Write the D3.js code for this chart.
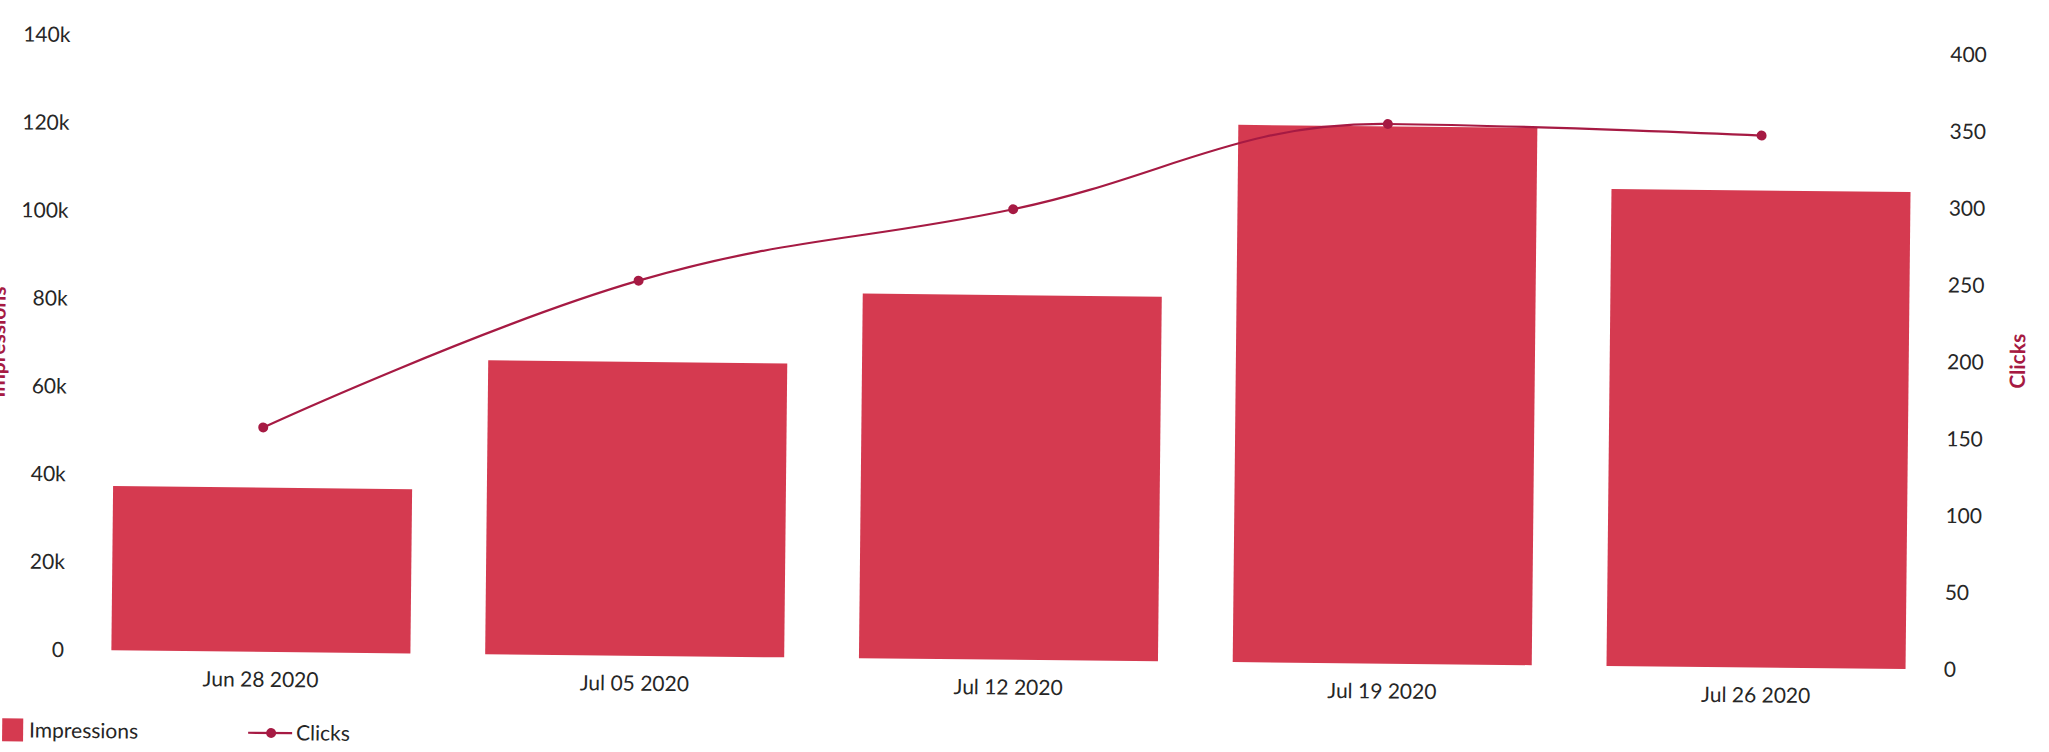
<!DOCTYPE html>
<html>
<head>
<meta charset="utf-8">
<script src="https://cdn.jsdelivr.net/npm/d3@7"></script>
<style>
  body { margin: 0; background: #fff; }
  text { font-family: Lato, "Open Sans", sans-serif; }
</style>
</head>
<body>
<div id="chart"></div>
<script>
// weekly data
const weeks = ['Jun 28 2020', 'Jul 05 2020', 'Jul 12 2020', 'Jul 19 2020', 'Jul 26 2020'];
const impressions = [37400, 66900, 83000, 122300, 108600];
const clicks = [146, 244, 293, 351, 346];
const impTicks = [0, 20000, 40000, 60000, 80000, 100000, 120000, 140000];
const clickTicks = [0, 50, 100, 150, 200, 250, 300, 350, 400];

const width = 2049, height = 752;
const barColor = '#d53a50';
const lineColor = '#a61a43';
const textColor = '#262626';
const fontSize = '21px';

const svg = d3.select('#chart').append('svg')
  .attr('width', width).attr('height', height);

// the scan is slightly tilted, so the whole chart is turned a bit
const g = svg.append('g').attr('transform', 'rotate(0.6, 81, 650)');

const x = d3.scaleBand().domain(weeks).range([74, 1943]).paddingInner(0.2).paddingOuter(0.1);
const yLeft = d3.scaleLinear().domain([0, 140000]).range([650, 35]);
const yRight = d3.scaleLinear().domain([0, 400]).range([650, 35]);

// bars
g.selectAll('rect.bar').data(weeks).join('rect')
  .attr('class', 'bar')
  .attr('x', d => x(d))
  .attr('width', x.bandwidth())
  .attr('y', (d, i) => yLeft(impressions[i]))
  .attr('height', (d, i) => yLeft(0) - yLeft(impressions[i]))
  .attr('fill', barColor);

// spline like the original chart: control points 1/2.5 of the way to neighbours,
// flattened at local extremes
function splinePath(pts) {
  const sm = 1.5, den = sm + 1;
  const cont = pts.map((p, i) => {
    if (i === 0 || i === pts.length - 1) return null;
    const [lx, ly] = pts[i - 1], [nx, ny] = pts[i + 1], [px, py] = p;
    const lcx = (sm * px + lx) / den, rcx = (sm * px + nx) / den;
    let lcy = (sm * py + ly) / den, rcy = (sm * py + ny) / den;
    const corr = ((rcy - lcy) * (rcx - px)) / (rcx - lcx) + py - rcy;
    lcy += corr; rcy += corr;
    if (lcy > ly && lcy > py) { lcy = Math.max(ly, py); rcy = 2 * py - lcy; }
    else if (lcy < ly && lcy < py) { lcy = Math.min(ly, py); rcy = 2 * py - lcy; }
    if (rcy > ny && rcy > py) { rcy = Math.max(ny, py); lcy = 2 * py - rcy; }
    else if (rcy < ny && rcy < py) { rcy = Math.min(ny, py); lcy = 2 * py - rcy; }
    return { lcx, lcy, rcx, rcy };
  });
  const path = d3.path();
  path.moveTo(pts[0][0], pts[0][1]);
  for (let i = 1; i < pts.length; i++) {
    const a = cont[i - 1], b = cont[i];
    path.bezierCurveTo(
      a ? a.rcx : pts[i - 1][0], a ? a.rcy : pts[i - 1][1],
      b ? b.lcx : pts[i][0], b ? b.lcy : pts[i][1],
      pts[i][0], pts[i][1]);
  }
  return path.toString();
}

const pts = clicks.map((d, i) => [x(weeks[i]) + x.bandwidth() / 2, yRight(d)]);

g.append('path')
  .attr('d', splinePath(pts))
  .attr('fill', 'none')
  .attr('stroke', lineColor)
  .attr('stroke-width', 2.2);

g.selectAll('circle.pt').data(pts).join('circle')
  .attr('class', 'pt')
  .attr('cx', d => d[0])
  .attr('cy', d => d[1])
  .attr('r', 5)
  .attr('fill', lineColor);

// axes
const styleAxis = sel => {
  sel.select('.domain').remove();
  sel.selectAll('.tick line').remove();
  sel.selectAll('.tick text')
    .attr('fill', textColor)
    .style('font-size', fontSize);
};

g.append('g').attr('transform', 'translate(72,0)')
  .call(d3.axisLeft(yLeft).tickValues(impTicks).tickSize(0).tickPadding(8)
    .tickFormat(d => d === 0 ? '0' : (d / 1000) + 'k'))
  .call(styleAxis);

g.append('g').attr('transform', 'translate(1934,0)')
  .call(d3.axisRight(yRight).tickValues(clickTicks).tickSize(0).tickPadding(10))
  .call(styleAxis);

g.append('g').attr('transform', 'translate(0,650)')
  .call(d3.axisBottom(x).tickSize(0).tickPadding(20))
  .call(styleAxis);

// axis titles
g.append('text')
  .attr('transform', 'translate(2022,341) rotate(-90)')
  .attr('text-anchor', 'middle')
  .attr('fill', lineColor)
  .style('font-size', fontSize).style('font-weight', 'bold')
  .text('Clicks');

g.append('text')
  .attr('transform', 'translate(2,343) rotate(-90)')
  .attr('text-anchor', 'middle')
  .attr('fill', lineColor)
  .style('font-size', fontSize).style('font-weight', 'bold')
  .text('Impressions');

// legend
const legend = g.append('g').attr('transform', 'translate(0,731)');
legend.append('rect').attr('x', 3).attr('y', -12).attr('width', 21).attr('height', 23).attr('fill', barColor);
legend.append('text').attr('x', 30).attr('y', 7).attr('fill', textColor).style('font-size', fontSize).text('Impressions');
legend.append('line').attr('x1', 249).attr('x2', 293).attr('y1', 0).attr('y2', 0)
  .attr('stroke', lineColor).attr('stroke-width', 2.2);
legend.append('circle').attr('cx', 272).attr('cy', 0).attr('r', 5).attr('fill', lineColor);
legend.append('text').attr('x', 297).attr('y', 7).attr('fill', textColor).style('font-size', fontSize).text('Clicks');
</script>
</body>
</html>
